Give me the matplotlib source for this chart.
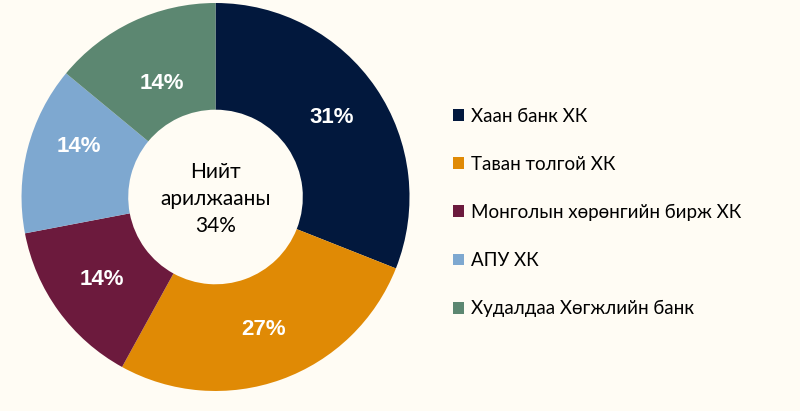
import numpy as np
import matplotlib.pyplot as plt

# data
labels = ['Хаан банк ХК', 'Таван толгой ХК', 'Монголын хөрөнгийн бирж ХК',
          'АПУ ХК', 'Худалдаа Хөгжлийн банк']
shares = [31, 27, 14, 14, 14]
colors = ['#02183D', '#E08A05', '#6C1A3D', '#7EA8D0', '#5C8771']
center_text = 'Нийт\nарилжааны\n34%'

# data label placement tweaks (radius, angle shift in degrees)
label_r = [0.725, 0.725, 0.725, 0.75, 0.645]
label_shift = [0, 0, 0, -6, 0]

bg = '#FFFCF4'

fig = plt.figure(figsize=(8, 4.11), dpi=100, facecolor=bg)
ax = fig.add_axes([0.0269, 0.0487, 0.485, 0.944])
ax.set_facecolor(bg)

wedges, texts, autotexts = ax.pie(
    shares, colors=colors, startangle=90, counterclock=False,
    autopct='%d%%', pctdistance=0.725,
    wedgeprops=dict(width=0.55, linewidth=0),
    textprops=dict(color='white', fontsize=16, fontweight='bold',
                   family='Liberation Sans'))

# nudge labels like the original
for w, t, r, s in zip(wedges, autotexts, label_r, label_shift):
    ang = np.deg2rad((w.theta1 + w.theta2) / 2 + s)
    t.set_position((r * np.cos(ang), r * np.sin(ang)))

ax.set_aspect('equal')
ax.set_xlim(-1, 1)
ax.set_ylim(-1, 1)

ax.text(0, -0.01, center_text, ha='center', va='center', fontsize=15,
        family='Lato', color='#000000', linespacing=1.42)

leg = fig.legend(wedges, labels, loc='center left',
                 bbox_to_anchor=(453 / 800, 0.483), frameon=False,
                 prop=dict(family='Lato', size=13.5),
                 handlelength=0.6, handleheight=0.6, handletextpad=0.35,
                 labelspacing=1.66, borderpad=0, borderaxespad=0)

fig.savefig('out.png', dpi=100, facecolor=bg)
